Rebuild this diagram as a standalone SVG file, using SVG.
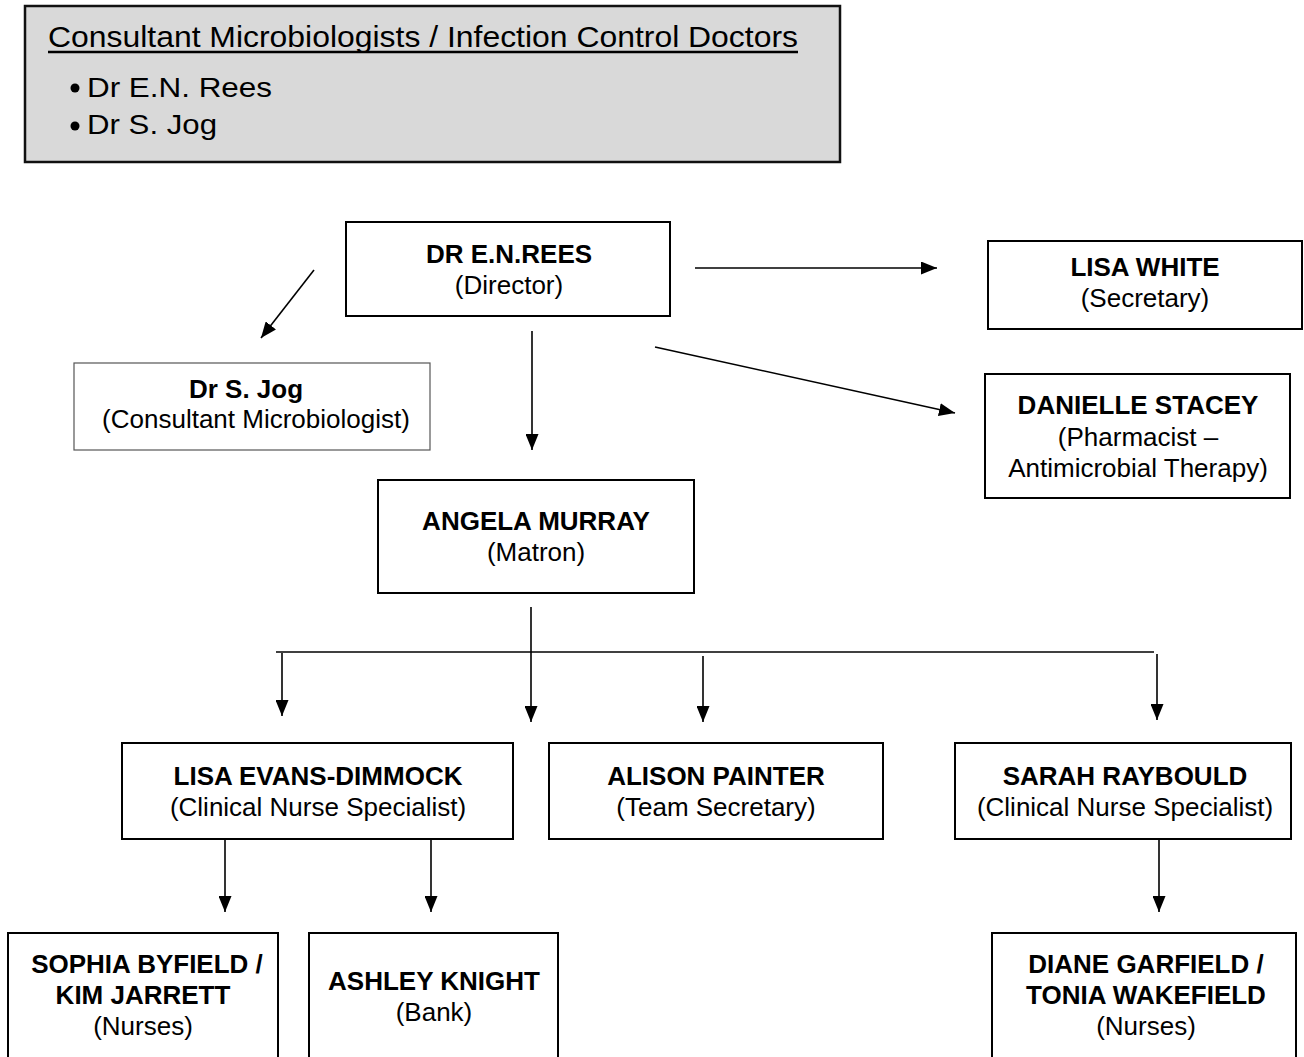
<svg xmlns="http://www.w3.org/2000/svg" width="1304" height="1057" viewBox="0 0 1304 1057">
<style>
text{font-family:"Liberation Sans",Arial,sans-serif;fill:#000}
.box{fill:#fff;stroke:#000;stroke-width:2}
.thin{fill:#fff;stroke:#555;stroke-width:1.2}
.n{font-size:26px;font-weight:bold;text-anchor:middle}
.r{font-size:26px;text-anchor:middle}
.c{stroke:#000;stroke-width:1.6;fill:none}
.ca{stroke:#000;stroke-width:1.6;fill:none;marker-end:url(#ah)}
</style>
<defs>
<marker id="ah" markerUnits="userSpaceOnUse" markerWidth="16" markerHeight="13" refX="16" refY="6.5" orient="auto">
<path d="M0,0 L16,6.5 L0,13 z" fill="#000"/>
</marker>
</defs>
<rect width="1304" height="1057" fill="#fff"/>

<g id="legend">
<rect x="25" y="6" width="815" height="156" fill="#d9d9d9" stroke="#111" stroke-width="2.5"/>
<text x="48" y="47" font-size="30" textLength="750" lengthAdjust="spacingAndGlyphs">Consultant Microbiologists / Infection Control Doctors</text>
<line x1="48" y1="52" x2="798" y2="52" stroke="#000" stroke-width="2.5"/>
<circle cx="75" cy="88" r="4.5" fill="#000"/>
<text x="87" y="97" font-size="28" textLength="185" lengthAdjust="spacingAndGlyphs">Dr E.N. Rees</text>
<circle cx="75" cy="126" r="4.5" fill="#000"/>
<text x="87" y="134" font-size="28" textLength="130" lengthAdjust="spacingAndGlyphs">Dr S. Jog</text>
</g>

<g id="connectors">
<line class="ca" x1="314" y1="270" x2="261" y2="338"/>
<line class="ca" x1="695" y1="268" x2="937" y2="268"/>
<line class="ca" x1="532" y1="331" x2="532" y2="450"/>
<line class="ca" x1="655" y1="347" x2="955" y2="413"/>
<line class="ca" x1="531" y1="607" x2="531" y2="722"/>
<line class="c" x1="276" y1="652" x2="1154" y2="652" stroke-width="2.2"/>
<line class="ca" x1="282" y1="653" x2="282" y2="716"/>
<line class="ca" x1="703" y1="656" x2="703" y2="722"/>
<line class="ca" x1="1157" y1="654" x2="1157" y2="720"/>
<line class="ca" x1="225" y1="839" x2="225" y2="912"/>
<line class="ca" x1="431" y1="839" x2="431" y2="912"/>
<line class="ca" x1="1159" y1="839" x2="1159" y2="912"/>
</g>

<g id="rees">
<rect class="box" x="346" y="222" width="324" height="94"/>
<text class="n" x="509" y="263">DR E.N.REES</text>
<text class="r" x="509" y="294">(Director)</text>
</g>

<g id="jog">
<rect class="thin" x="74" y="363" width="356" height="87"/>
<text class="n" x="246" y="398">Dr S. Jog</text>
<text class="r" x="256" y="428"> (Consultant Microbiologist)</text>
</g>

<g id="white">
<rect class="box" x="988" y="241" width="314" height="88"/>
<text class="n" x="1145" y="276">LISA WHITE</text>
<text class="r" x="1145" y="307">(Secretary)</text>
</g>

<g id="stacey">
<rect class="box" x="985" y="374" width="305" height="124"/>
<text class="n" x="1138" y="414">DANIELLE STACEY</text>
<text class="r" x="1138" y="446">(Pharmacist –</text>
<text class="r" x="1138" y="477">Antimicrobial Therapy)</text>
</g>

<g id="murray">
<rect class="box" x="378" y="480" width="316" height="113"/>
<text class="n" x="536" y="530">ANGELA MURRAY</text>
<text class="r" x="536" y="561">(Matron)</text>
</g>

<g id="evans">
<rect class="box" x="122" y="743" width="391" height="96"/>
<text class="n" x="318" y="785">LISA EVANS-DIMMOCK</text>
<text class="r" x="318" y="816">(Clinical Nurse Specialist)</text>
</g>

<g id="painter">
<rect class="box" x="549" y="743" width="334" height="96"/>
<text class="n" x="716" y="785">ALISON PAINTER</text>
<text class="r" x="716" y="816">(Team Secretary)</text>
</g>

<g id="raybould">
<rect class="box" x="955" y="743" width="336" height="96"/>
<text class="n" x="1125" y="785">SARAH RAYBOULD</text>
<text class="r" x="1125" y="816">(Clinical Nurse Specialist)</text>
</g>

<g id="byfield">
<rect class="box" x="8" y="933" width="270" height="140"/>
<text class="n" x="147" y="973">SOPHIA BYFIELD /</text>
<text class="n" x="143" y="1004">KIM JARRETT</text>
<text class="r" x="143" y="1035">(Nurses)</text>
</g>

<g id="knight">
<rect class="box" x="309" y="933" width="249" height="140"/>
<text class="n" x="434" y="990">ASHLEY KNIGHT</text>
<text class="r" x="434" y="1021">(Bank)</text>
</g>

<g id="garfield">
<rect class="box" x="992" y="933" width="304" height="140"/>
<text class="n" x="1146" y="973">DIANE GARFIELD /</text>
<text class="n" x="1146" y="1004">TONIA WAKEFIELD</text>
<text class="r" x="1146" y="1035">(Nurses)</text>
</g>
</svg>
